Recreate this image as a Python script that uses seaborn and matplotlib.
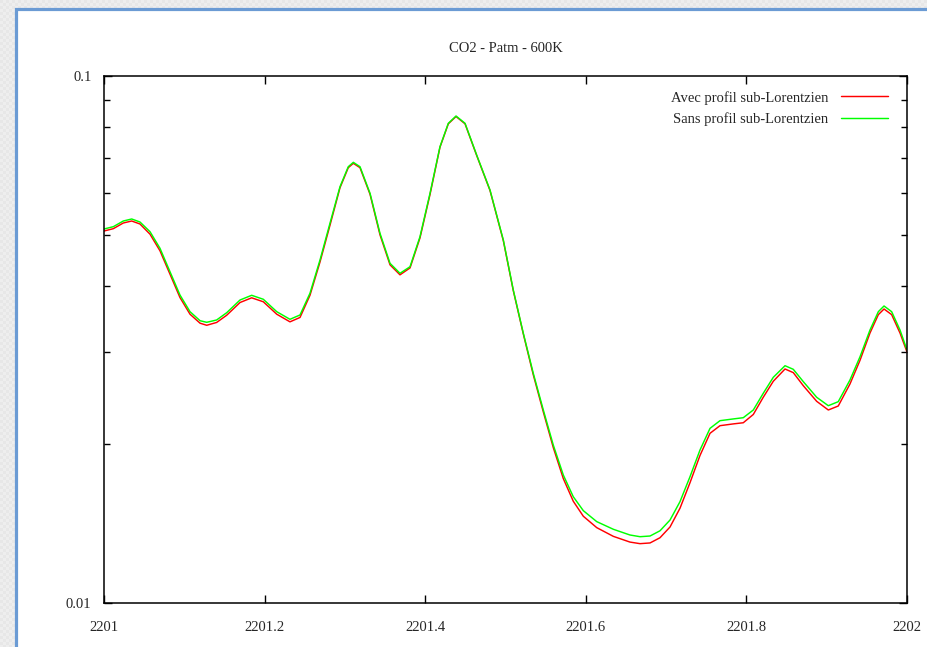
import numpy as np
import pandas as pd
import matplotlib
matplotlib.use("Agg")
import matplotlib.pyplot as plt
from matplotlib.patches import Rectangle
from matplotlib.ticker import FixedLocator, NullFormatter
import seaborn as sns

# Wavenumber grid (cm-1)
wavenumber = [
    2201.0000, 2201.0116, 2201.0240, 2201.0345, 2201.0448, 2201.0573, 2201.0697, 2201.0822, 2201.0946, 2201.1071,
    2201.1196, 2201.1279, 2201.1403, 2201.1528, 2201.1694, 2201.1839, 2201.1984, 2201.2151, 2201.2316, 2201.2441,
    2201.2565, 2201.2690, 2201.2814, 2201.2939, 2201.3042, 2201.3105, 2201.3188, 2201.3313, 2201.3437, 2201.3562,
    2201.3686, 2201.3811, 2201.3935, 2201.4060, 2201.4184, 2201.4288, 2201.4384, 2201.4496, 2201.4641, 2201.4807,
    2201.4973, 2201.5097, 2201.5222, 2201.5346, 2201.5471, 2201.5595, 2201.5720, 2201.5844, 2201.5969, 2201.6136,
    2201.6343, 2201.6550, 2201.6675, 2201.6800, 2201.6924, 2201.7049, 2201.7173, 2201.7298, 2201.7422, 2201.7547,
    2201.7671, 2201.7837, 2201.7961, 2201.8086, 2201.8210, 2201.8335, 2201.8481, 2201.8584, 2201.8709, 2201.8875,
    2201.9020, 2201.9144, 2201.9290, 2201.9415, 2201.9539, 2201.9643, 2201.9714, 2201.9809, 2201.9913, 2202.0000,
]

# Absorption computed with the sub-Lorentzian line profile
avec_sub = [
    0.05080, 0.05132, 0.05261, 0.05307, 0.05238, 0.05010, 0.04660, 0.04206, 0.03799, 0.03532,
    0.03396, 0.03365, 0.03407, 0.03516, 0.03717, 0.03794, 0.03729, 0.03532, 0.03416, 0.03482,
    0.03836, 0.04437, 0.05208, 0.06138, 0.06699, 0.06828, 0.06699, 0.05964, 0.04996, 0.04382,
    0.04195, 0.04323, 0.04929, 0.05959, 0.07326, 0.08115, 0.08378, 0.08115, 0.07066, 0.06064,
    0.04869, 0.03914, 0.03239, 0.02710, 0.02304, 0.01972, 0.01722, 0.01560, 0.01461, 0.01390,
    0.01338, 0.01305, 0.01296, 0.01300, 0.01330, 0.01394, 0.01513, 0.01692, 0.01905, 0.02099,
    0.02170, 0.02187, 0.02198, 0.02279, 0.02457, 0.02635, 0.02780, 0.02736, 0.02584, 0.02414,
    0.02324, 0.02365, 0.02604, 0.02888, 0.03253, 0.03525, 0.03613, 0.03525, 0.03253, 0.02994,
]

# Absorption computed with a pure Lorentzian line profile
sans_sub = [
    0.05125, 0.05177, 0.05307, 0.05354, 0.05284, 0.05065, 0.04711, 0.04252, 0.03841, 0.03571,
    0.03433, 0.03409, 0.03444, 0.03555, 0.03758, 0.03836, 0.03770, 0.03571, 0.03454, 0.03520,
    0.03870, 0.04476, 0.05254, 0.06165, 0.06728, 0.06858, 0.06728, 0.05990, 0.05029, 0.04411,
    0.04223, 0.04346, 0.04955, 0.05990, 0.07342, 0.08133, 0.08396, 0.08133, 0.07081, 0.06077,
    0.04884, 0.03926, 0.03249, 0.02728, 0.02324, 0.01994, 0.01749, 0.01591, 0.01497, 0.01427,
    0.01380, 0.01346, 0.01336, 0.01340, 0.01371, 0.01437, 0.01557, 0.01737, 0.01951, 0.02145,
    0.02218, 0.02235, 0.02247, 0.02324, 0.02500, 0.02681, 0.02820, 0.02776, 0.02630, 0.02457,
    0.02368, 0.02410, 0.02650, 0.02933, 0.03296, 0.03571, 0.03661, 0.03571, 0.03296, 0.03020,
]

labels = ["Avec profil sub-Lorentzien", "Sans profil sub-Lorentzien"]
colors = ["#ff0000", "#00ff00"]
x_ticks = [2201, 2201.2, 2201.4, 2201.6, 2201.8, 2202]
x_ticklabels = ["2201", "2201.2", "2201.4", "2201.6", "2201.8", "2202"]
y_ticks = [0.01, 0.1]
y_ticklabels = ["0.01", "0.1"]
y_minor = [0.02, 0.03, 0.04, 0.05, 0.06, 0.07, 0.08, 0.09]

df = pd.concat([
    pd.DataFrame({"x": wavenumber, "y": avec_sub, "profil": labels[0]}),
    pd.DataFrame({"x": wavenumber, "y": sans_sub, "profil": labels[1]}),
], ignore_index=True)

sns.set_style("ticks")
plt.rcParams["font.family"] = ["Liberation Serif", "DejaVu Serif"]

W, H = 928, 647
fig = plt.figure(figsize=(W / 100, H / 100), dpi=100, facecolor="#e8e8e8")

# Light speckled grey backdrop around the page
yy, xx = np.mgrid[0:H, 0:W]
speckle = ((xx // 3 + yy // 3) % 2).astype(float)
backdrop = 0.905 + 0.025 * speckle
fig.figimage(backdrop, xo=0, yo=0, cmap="gray", vmin=0, vmax=1,
             origin="upper", zorder=-10)

# White page with a blue frame, kept behind the axes
panel = Rectangle((16 / W, -0.1), 1.2, 1.0 - 9 / H + 0.1,
                  transform=fig.transFigure, facecolor="white",
                  edgecolor="#6b9bd4", linewidth=2.3, zorder=-5)
fig.patches.append(panel)

ax = fig.add_axes([104 / W, 1 - 603 / H, (907 - 104) / W, (603 - 76) / H])
ax.set_zorder(1)
ax.set_facecolor("white")

sns.lineplot(data=df, x="x", y="y", hue="profil", hue_order=labels,
             palette=colors, linewidth=1.05, ax=ax, legend=True)

ax.set_yscale("log")
ax.set_xlim(2201, 2202)
ax.set_ylim(0.01, 0.1)
ax.set_xlabel("")
ax.set_ylabel("")

ax.xaxis.set_major_locator(FixedLocator(x_ticks))
ax.set_xticklabels(x_ticklabels)
ax.yaxis.set_major_locator(FixedLocator(y_ticks))
ax.set_yticklabels(y_ticklabels)
ax.yaxis.set_minor_locator(FixedLocator(y_minor))
ax.yaxis.set_minor_formatter(NullFormatter())
ax.xaxis.set_minor_locator(FixedLocator([]))

ax.tick_params(axis="both", which="major", direction="in", length=6,
               width=1.0, color="black", labelsize=10.5,
               top=True, right=True)
ax.tick_params(axis="x", which="major", pad=13)
ax.tick_params(axis="y", which="major", pad=9)
ax.tick_params(axis="y", which="minor", direction="in", length=4,
               width=1.0, color="black", left=True, right=True)

for side in ["left", "right", "top", "bottom"]:
    ax.spines[side].set_visible(True)
    ax.spines[side].set_color("black")
    ax.spines[side].set_linewidth(1.1)

ax.set_title("CO2 - Patm - 600K", fontsize=10.5, pad=17)

leg = ax.legend(loc="upper right", bbox_to_anchor=(0.9763, 0.972),
                frameon=False, markerfirst=False, fontsize=10.5,
                handlelength=3.2, handletextpad=0.9, labelspacing=0.55,
                borderpad=0, borderaxespad=0)
for line in leg.get_lines():
    line.set_linewidth(1.05)

fig.savefig("out.png", dpi=100, facecolor=fig.get_facecolor())
